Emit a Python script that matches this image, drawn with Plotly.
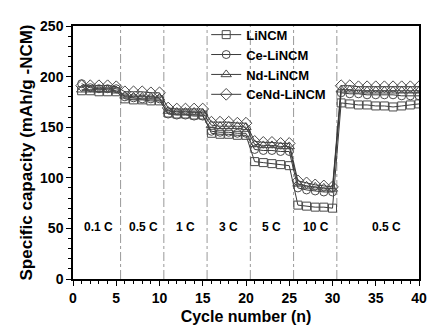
import plotly.graph_objects as go

cycles = list(range(1, 41))
li_ncm = [186, 186, 185, 185, 185,
          178, 177, 177, 176, 176,
          164, 163, 163, 162, 162,
          144, 143, 143, 142, 142,
          116, 115, 114, 113, 112,
          73, 72, 71, 71, 70,
          174, 173, 172, 172, 171, 171, 170, 171, 172, 173]
ce_li_ncm = [193, 189, 188, 188, 188,
             180, 179, 178, 178, 178,
             163, 162, 162, 161, 161,
             146, 145, 145, 144, 144,
             128, 127, 127, 126, 126,
             90, 88, 87, 86, 86,
             184, 183, 183, 182, 182, 182, 182, 181, 181, 181]
nd_li_ncm = [187, 187, 187, 187, 186,
             181, 180, 180, 180, 179,
             166, 165, 165, 165, 164,
             152, 151, 151, 151, 150,
             133, 132, 132, 131, 131,
             94, 92, 91, 90, 89,
             187, 187, 186, 186, 186, 186, 186, 186, 186, 186]
cend_li_ncm = [191, 191, 191, 191, 190,
               185, 185, 185, 184, 184,
               169, 168, 168, 168, 168,
               155, 155, 155, 154, 154,
               136, 135, 135, 134, 134,
               97, 95, 93, 92, 91,
               191, 191, 190, 190, 190, 190, 190, 190, 190, 190]

series_names = ["LiNCM", "Ce-LiNCM", "Nd-LiNCM", "CeNd-LiNCM"]
series_values = [li_ncm, ce_li_ncm, nd_li_ncm, cend_li_ncm]
symbols = ["square-open", "circle-open", "triangle-up-open", "diamond-open"]
marker_sizes = [8, 8, 9, 9]

separators = [5.5, 10.5, 15.5, 20.5, 25.5, 30.5]
rate_labels = ["0.1 C", "0.5 C", "1 C", "3 C", "5 C", "10 C", "0.5 C"]
rate_label_x = [2.9, 8.1, 13.0, 18.0, 23.0, 28.1, 36.2]
rate_label_y = 51

font_family = "Liberation Sans, Arial, sans-serif"

fig = go.Figure()
for name, vals, sym, ms in zip(series_names, series_values, symbols, marker_sizes):
    fig.add_trace(go.Scatter(
        x=cycles, y=vals, name="<b>%s</b>" % name, mode="lines+markers",
        line=dict(color="#3a3a3a", width=1),
        marker=dict(symbol=sym, size=ms, color="#4a4a4a", line=dict(width=1, color="#4a4a4a")),
    ))

for sx in separators:
    fig.add_shape(type="line", x0=sx, x1=sx, y0=0, y1=1, xref="x", yref="paper",
                  line=dict(color="#999999", width=1, dash="dashdot"), layer="below")

for lab, lx in zip(rate_labels, rate_label_x):
    fig.add_annotation(x=lx, y=rate_label_y, text="<b>%s</b>" % lab, showarrow=False,
                       font=dict(size=12, color="black", family=font_family))

fig.update_layout(
    width=443, height=335,
    margin=dict(l=73, r=24, t=26, b=53),
    paper_bgcolor="white", plot_bgcolor="white",
    font=dict(family=font_family, color="black"),
    showlegend=True,
    legend=dict(x=0.385, y=1.025, xanchor="left", yanchor="top",
                bgcolor="rgba(0,0,0,0)", borderwidth=0,
                font=dict(size=13, family=font_family, color="black"),
                tracegroupgap=0, itemwidth=30),
    xaxis=dict(range=[0, 40], tickmode="linear", tick0=0, dtick=5,
               ticks="outside", ticklen=5, tickwidth=1, tickcolor="black",
               minor=dict(dtick=1, ticks="outside", ticklen=3, tickcolor="black"),
               showline=True, linecolor="black", linewidth=1.5, mirror=True,
               showgrid=False, zeroline=False,
               tickfont=dict(size=14, family=font_family, weight="bold"),
               title=dict(text="<b>Cycle number (n)</b>", font=dict(size=16), standoff=6)),
    yaxis=dict(range=[0, 250], tickmode="linear", tick0=0, dtick=50,
               ticks="outside", ticklen=5, tickwidth=1, tickcolor="black",
               minor=dict(dtick=10, ticks="outside", ticklen=3, tickcolor="black"),
               showline=True, linecolor="black", linewidth=1.5, mirror=True,
               showgrid=False, zeroline=False,
               tickfont=dict(size=14, family=font_family, weight="bold"),
               title=dict(text="<b>Specific capacity (mAh/g -NCM)</b>", font=dict(size=17), standoff=3)),
)

fig.write_html("out.html")
